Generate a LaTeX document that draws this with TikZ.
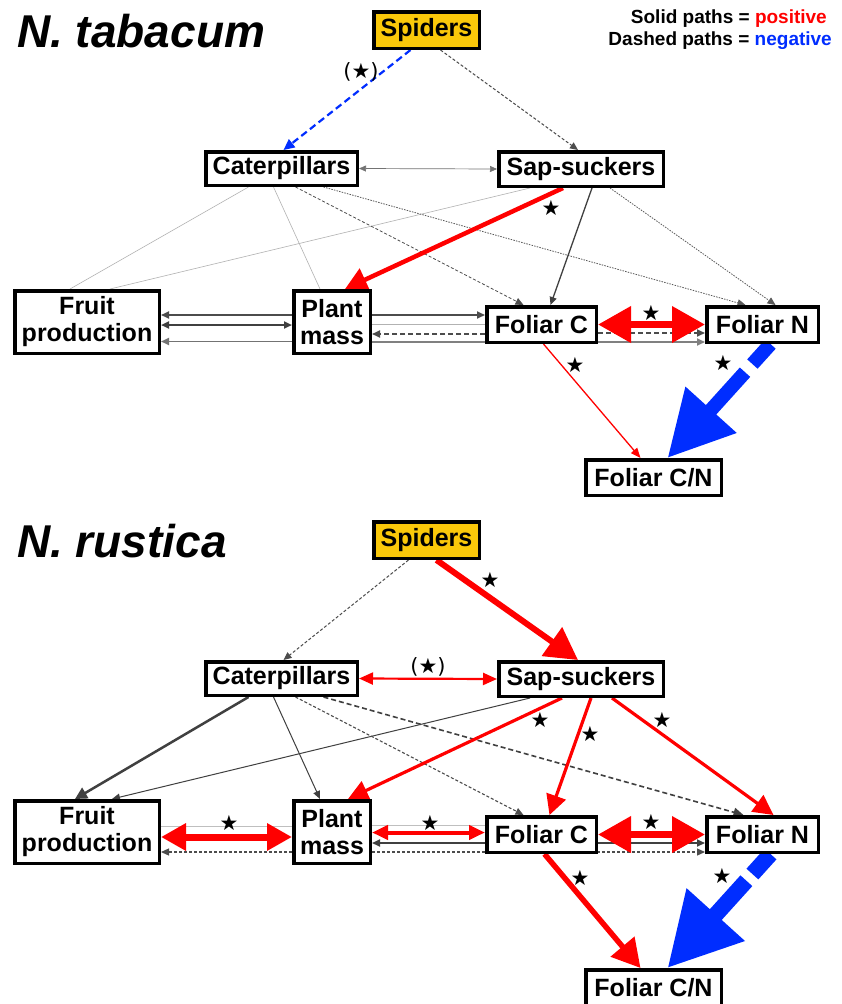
\documentclass[tikz,border=0pt]{standalone}
\usepackage{fontspec}
\setmainfont{Liberation Sans}
\newfontfamily\symfont{DejaVu Sans}
\usetikzlibrary{arrows.meta,calc}
\pgfdeclarelayer{bg}
\pgfsetlayers{bg,main}
\definecolor{spy}{RGB}{250,200,10}
\definecolor{pblue}{RGB}{0,45,255}
\definecolor{pred}{RGB}{255,0,0}
\newcommand{\mystar}{★}
\tikzset{
 box/.style={draw,line width=3.5pt,fill=white,font=\bfseries\fontsize{25}{27}\selectfont,inner sep=0pt,align=center},
 spbox/.style={box,fill=spy,minimum width=105.5pt,minimum height=36.5pt},
 catbox/.style={box,minimum width=151.5pt,minimum height=33.5pt},
 sapbox/.style={box,minimum width=164.5pt,minimum height=34.5pt},
 frubox/.style={box,minimum width=144.5pt,minimum height=62.5pt},
 plabox/.style={box,minimum width=76.5pt,minimum height=62.5pt},
 fcbox/.style={box,minimum width=109.5pt,minimum height=35.5pt},
 fnbox/.style={box,minimum width=111.5pt,minimum height=35.5pt},
 cnbox/.style={box,minimum width=135.5pt,minimum height=35.5pt},
 title/.style={anchor=base west,inner sep=0pt,font=\bfseries\itshape\fontsize{46}{46}\selectfont},
 legend/.style={anchor=base east,inner sep=0pt,font=\bfseries\fontsize{19}{19}\selectfont},
 starlbl/.style={inner sep=0pt,font=\symfont\fontsize{21}{21}\selectfont},
 sm/.style={-{Triangle[length=8pt,width=7pt]}},
 smm/.style={{Triangle[length=7pt,width=6pt]}-{Triangle[length=7pt,width=6pt]}},
 lite/.style={draw=black!30,line width=0.6pt},
 gdash/.style={draw=black!70,line width=1pt,dash pattern=on 3pt off 2pt},
 gdot/.style={draw=black!65,line width=0.8pt,dash pattern=on 1.5pt off 1.2pt},
 hline/.style={line width=1.8pt,sm},
 bigred/.style={pred,line width=7pt,{Triangle[length=33pt,width=35pt]}-{Triangle[length=33pt,width=35pt]}},
}
\begin{document}
\begin{tikzpicture}[x=1pt,y=-1pt]
\useasboundingbox (0,0) rectangle (842,1004);
% ---------- titles and legend
\node[title] (t1) at (17,47) {N. tabacum};
\node[title] (t2) at (17,557) {N. rustica};
\node[legend] (lg1) at (827,23) {Solid paths = \textcolor{pred}{positive}};
\node[legend] (lg2) at (832,45) {Dashed paths = \textcolor{pblue}{negative}};
% ---------- top nodes
\node[spbox] (sp1) at (426.5,30) {Spiders};
\node[catbox] (cat1) at (281.5,168.5) {Caterpillars};
\node[sapbox] (sap1) at (581,169) {Sap-suckers};
\node[frubox] (fru1) at (87,322) {Fruit\\production};
\node[plabox] (pla1) at (332,322) {Plant\\mass};
\node[fcbox] (fc1) at (541.5,324.5) {Foliar C};
\node[fnbox] (fn1) at (762.5,324.5) {Foliar N};
\node[cnbox] (cn1) at (653.5,477.5) {Foliar C/N};
% ---------- bottom nodes
\node[spbox] (sp2) at (426.5,540) {Spiders};
\node[catbox] (cat2) at (281.5,678.5) {Caterpillars};
\node[sapbox] (sap2) at (581,679) {Sap-suckers};
\node[frubox] (fru2) at (87,832) {Fruit\\production};
\node[plabox] (pla2) at (332,832) {Plant\\mass};
\node[fcbox] (fc2) at (541.5,834.5) {Foliar C};
\node[fnbox] (fn2) at (762.5,834.5) {Foliar N};
\node[cnbox] (cn2) at (653.5,987.5) {Foliar C/N};
% ---------- stars
\node[starlbl] (s1) at (361,72) {(\mystar)};
\node[starlbl] (s2) at (551,208) {\mystar};
\node[starlbl] (s3) at (651,313) {\mystar};
\node[starlbl] (s4) at (575,365) {\mystar};
\node[starlbl] (s5) at (723,363) {\mystar};
\node[starlbl] (s6) at (490,580) {\mystar};
\node[starlbl] (s7) at (428,667) {(\mystar)};
\node[starlbl] (s8) at (540,720) {\mystar};
\node[starlbl] (s9) at (590,734) {\mystar};
\node[starlbl] (s10) at (662,720) {\mystar};
\node[starlbl] (s11) at (229,823) {\mystar};
\node[starlbl] (s12) at (430,823) {\mystar};
\node[starlbl] (s13) at (651,822) {\mystar};
\node[starlbl] (s14) at (580,878) {\mystar};
\node[starlbl] (s15) at (722,876) {\mystar};
\begin{pgfonlayer}{bg}
\fill[white] (0,0) rectangle (842,1004);
% ================= TOP PANEL
\draw[lite] ($(sap1.south)+(-51,0)$) -- ($(fru1.north)+(23,0)$);
\draw[lite] ($(cat1.south)+(-33,0)$) -- ($(fru1.north)+(-17,0)$);
\draw[lite] ($(cat1.south)+(-8,0)$) -- ($(pla1.north)+(-12,0)$);
\draw[gdash,line width=0.8pt,sm] ($(cat1.south)+(14,0)$) -- ($(fc1.north)+(-18,0)$);
\draw[gdot,sm] ($(cat1.south)+(42,0)$) -- ($(fn1.north)+(-17,0)$);
\draw[gdot,sm] ($(sap1.south)+(29,0)$) -- ($(fn1.north)+(13,0)$);
\draw[draw=black!75,line width=1.3pt,sm] ($(sap1.south)+(11,0)$) -- ($(fc1.north)+(9,0)$);
\draw[gdash,sm] ($(sp1.south)+(14,0)$) -- ($(sap1.north)+(-3,0)$);
\draw[draw=black!55,line width=0.7pt,smm] (cat1.east) -- (sap1.west);
\draw[pblue,line width=2.2pt,dash pattern=on 7pt off 4pt,-{Triangle[length=11pt,width=10pt]}] ($(sp1.south)+(-16,0)$) -- ($(cat1.north)+(2,0)$);
% horizontal
\draw[hline,draw=black!70] ($(pla1.west)+(0,-7)$) -- ($(fru1.east)+(0,-7)$);
\draw[line width=2.2pt,draw=black!75,{Triangle[length=8pt,width=7pt]}-{Triangle[length=8pt,width=7pt]}] ($(fru1.east)+(0,3)$) -- ($(pla1.west)+(0,3)$);
\draw[hline,draw=black!55] ($(pla1.west)+(0,19.5)$) -- ($(fru1.east)+(0,19.5)$);
\draw[hline,draw=black!70] ($(pla1.east)+(0,-7)$) -- ($(fc1.west)+(0,-9.5)$);
\draw[lite] ($(pla1.east)+(0,2.5)$) -- (fc1.west);
\draw[hline,draw=black!70,dash pattern=on 5pt off 3pt] ($(fc1.west)+(0,9.5)$) -- ($(pla1.east)+(0,12)$);
\draw[hline,draw=black!50] ($(pla1.east)+(0,20)$) -- ($(fn1.west)+(0,17.5)$);
\draw[hline,draw=black!70,dash pattern=on 5pt off 3pt] ($(fc1.east)+(0,8.5)$) -- ($(fn1.west)+(0,8.5)$);
\draw[bigred] (fc1.east) -- (fn1.west);
\draw[pred,line width=4.5pt,-{Triangle[length=22pt,width=24pt]}] ($(sap1.south)+(-18,0)$) -- ($(pla1.north)+(13,0)$);
\draw[pred,line width=1.3pt,-{Triangle[length=10pt,width=8pt]}] ($(fc1.south)+(2,0)$) -- ($(cn1.north)+(-13,0)$);
\draw[pblue,line width=14pt,dash pattern=on 27pt off 11pt on 60pt off 10pt,-{Triangle[length=65pt,width=65pt]}] ($(fn1.south)+(8,0)$) -- ($(cn1.north)+(14,0)$);
% ================= BOTTOM PANEL
\draw[gdash,sm] ($(sp2.south)+(-18,0)$) -- ($(cat2.north)+(2,0)$);
\draw[draw=black!75,line width=2.5pt,-{Triangle[length=12pt,width=12pt]}] ($(cat2.south)+(-33,0)$) -- ($(fru2.north)+(-12,0)$);
\draw[draw=black!75,line width=1pt,sm] ($(sap2.south)+(-51,0)$) -- ($(fru2.north)+(25,0)$);
\draw[draw=black!75,line width=1pt,sm] ($(cat2.south)+(-8,0)$) -- ($(pla2.north)+(-12,0)$);
\draw[gdash,line width=1.1pt,sm] ($(cat2.south)+(14,0)$) -- ($(fc2.north)+(-18,0)$);
\draw[draw=black!75,line width=1.6pt,dash pattern=on 5pt off 3pt,-{Triangle[length=10pt,width=9pt]}] ($(cat2.south)+(42,0)$) -- ($(fn2.north)+(-19,0)$);
\draw[pred,line width=2.2pt,{Triangle[length=14pt,width=12pt]}-{Triangle[length=14pt,width=12pt]}] (cat2.east) -- (sap2.west);
\draw[pred,line width=6pt,-{Triangle[length=32pt,width=34pt]}] ($(sp2.south)+(10,0)$) -- ($(sap2.north)+(-3,0)$);
\draw[pred,line width=3.2pt,-{Triangle[length=20pt,width=20pt]}] ($(sap2.south)+(-19,0)$) -- ($(pla2.north)+(16,0)$);
\draw[pred,line width=3.2pt,-{Triangle[length=20pt,width=20pt]}] ($(sap2.south)+(10,0)$) -- ($(fc2.north)+(8,0)$);
\draw[pred,line width=3.2pt,-{Triangle[length=20pt,width=20pt]}] ($(sap2.south)+(31,0)$) -- ($(fn2.north)+(11,0)$);
% horizontal
\draw[draw=black!25,line width=1pt] ($(fru2.east)+(0,-6)$) -- ($(pla2.west)+(0,-6)$);
\draw[draw=black!70,line width=1.2pt,dash pattern=on 3pt off 2pt,sm] ($(pla2.west)+(0,20)$) -- ($(fru2.east)+(0,20)$);
\draw[pred,line width=7pt,{Triangle[length=25pt,width=26pt]}-{Triangle[length=25pt,width=26pt]}] ($(fru2.east)+(0,5)$) -- ($(pla2.west)+(0,5)$);
\draw[draw=black!25,line width=1pt] ($(pla2.east)+(0,-7)$) -- ($(fc2.west)+(0,-9.5)$);
\draw[hline,draw=black!75] ($(fc2.west)+(0,8.5)$) -- ($(pla2.east)+(0,11)$);
\draw[draw=black!70,line width=1.3pt,dash pattern=on 3pt off 2pt,sm] ($(pla2.east)+(0,20)$) -- ($(fn2.west)+(0,17.5)$);
\draw[hline,draw=black!75] ($(fc2.east)+(0,8.5)$) -- ($(fn2.west)+(0,8.5)$);
\draw[pred,line width=4pt,{Triangle[length=16pt,width=14pt]}-{Triangle[length=16pt,width=14pt]}] ($(pla2.east)+(0,0.5)$) -- ($(fc2.west)+(0,-2)$);
\draw[bigred] (fc2.east) -- (fn2.west);
\draw[pred,line width=5.5pt,-{Triangle[length=28pt,width=30pt]}] ($(fc2.south)+(3,0)$) -- ($(cn2.north)+(-13,0)$);
\draw[pblue,line width=16pt,dash pattern=on 27pt off 9pt on 60pt off 10pt,-{Triangle[length=72pt,width=74pt]}] ($(fn2.south)+(8,0)$) -- ($(cn2.north)+(14,0)$);
\end{pgfonlayer}
\end{tikzpicture}
\end{document}
